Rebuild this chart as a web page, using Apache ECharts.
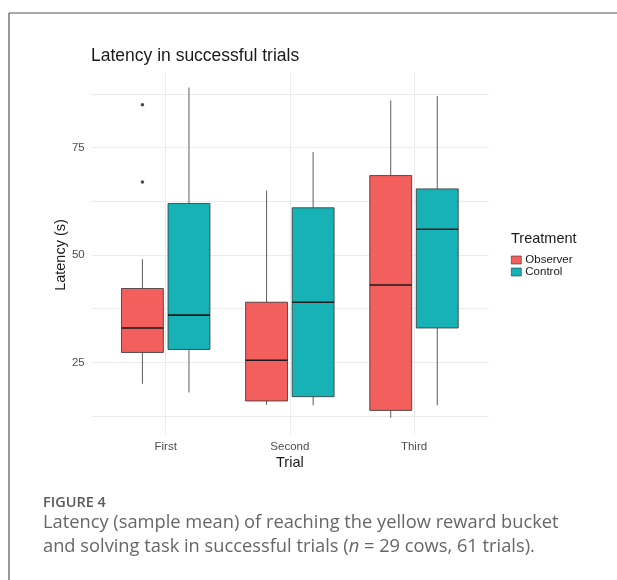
<!DOCTYPE html>
<html>
<head>
<meta charset="utf-8">
<script src="https://cdn.jsdelivr.net/npm/echarts@6/dist/echarts.min.js"></script>
<style>
  html, body { margin: 0; padding: 0; background: #fff; }
  #chart { width: 617px; height: 580px; }
</style>
</head>
<body>
<div id="chart"></div>
<script>
// trial categories
const categories = ['First', 'Second', 'Third']
// box stats per trial: [min, q1, median, q3, max]
const observerStats = [
  [20, 27.3, 33, 42.2, 49],
  [15.1, 16, 25.5, 39, 65],
  [12.1, 13.8, 43, 68.5, 86]
]
const controlStats = [
  [18, 28, 36, 62, 89],
  [15, 17, 39, 61, 74],
  [15, 33, 56, 65.4, 87]
]
// outliers: [trial index, latency]
const observerOutliers = [[0, 85], [0, 67]]
const yTicks = [25, 50, 75]

const observerColor = '#f25f5c'
const controlColor = '#17b2b6'
const dodge = 0.1875
const halfBox = 0.16875
const font = 'Liberation Sans'

const chart = echarts.init(document.getElementById('chart'))

function boxItem(offset, color) {
  return function (params, api) {
    const x = api.value(0) + offset
    const lo = api.coord([x, api.value(1)])
    const q1 = api.coord([x, api.value(2)])
    const med = api.coord([x, api.value(3)])
    const q3 = api.coord([x, api.value(4)])
    const hi = api.coord([x, api.value(5)])
    const left = api.coord([x - halfBox, 0])[0]
    const right = api.coord([x + halfBox, 0])[0]
    const line = { stroke: '#333', lineWidth: 0.8 }
    return {
      type: 'group',
      children: [
        { type: 'line', shape: { x1: hi[0], y1: hi[1], x2: q3[0], y2: q3[1] }, style: line },
        { type: 'line', shape: { x1: q1[0], y1: q1[1], x2: lo[0], y2: lo[1] }, style: line },
        { type: 'rect', shape: { x: left, y: q3[1], width: right - left, height: q1[1] - q3[1] },
          style: { fill: color, stroke: '#333', lineWidth: 0.8 } },
        { type: 'line', shape: { x1: left, y1: med[1], x2: right, y2: med[1] },
          style: { stroke: '#1a1a1a', lineWidth: 1.6 } }
      ]
    }
  }
}

const toData = stats => stats.map((s, i) => [i + 1, ...s])

chart.setOption({
  animation: false,
  title: [
    { text: 'Latency in successful trials', left: 86, top: 42,
      textStyle: { fontFamily: font, fontSize: 17.5, fontWeight: 'normal', color: '#1a1a1a' } },
    { text: 'Treatment', left: 506, top: 226,
      textStyle: { fontFamily: font, fontSize: 14.5, fontWeight: 'normal', color: '#1a1a1a' } }
  ],
  legend: {
    orient: 'vertical', left: 506, top: 249, itemGap: 0, itemWidth: 10, itemHeight: 8,
    icon: 'rect',
    itemStyle: { borderColor: '#333', borderWidth: 0.6 },
    textStyle: { fontFamily: font, fontSize: 11.5, color: '#1a1a1a', padding: [0, 0, 0, -1] },
    data: ['Observer', 'Control']
  },
  grid: [
    { left: 91.7, right: 128.2, top: 94, bottom: 164 },
    { left: 165.7, right: 203, top: 72, bottom: 146 }
  ],
  xAxis: [
    { type: 'value', gridIndex: 0, show: false, min: 0, max: 1 },
    { type: 'value', gridIndex: 1, min: 1, max: 3, interval: 1,
      axisLine: { show: false }, axisTick: { show: false },
      splitLine: { show: true, lineStyle: { color: '#ebebeb', width: 1 } },
      axisLabel: { formatter: v => categories[v - 1], color: '#4d4d4d', fontSize: 11.5,
        fontFamily: font, margin: 7 },
      name: 'Trial', nameLocation: 'middle', nameGap: 21, nameMoveOverlap: false,
      nameTextStyle: { fontFamily: font, fontSize: 14.5, color: '#1a1a1a' } }
  ],
  yAxis: [
    { type: 'value', gridIndex: 0, min: 12.5, max: 87.5, interval: 12.5,
      axisLine: { show: false }, axisTick: { show: false },
      splitLine: { show: true, lineStyle: { color: '#ebebeb', width: 1 } },
      axisLabel: { formatter: v => (yTicks.includes(v) ? String(v) : ''), color: '#4d4d4d',
        fontSize: 11.5, fontFamily: font, margin: 7 },
      name: 'Latency (s)', nameLocation: 'middle', nameRotate: 90, nameGap: 23.5,
      nameMoveOverlap: false,
      nameTextStyle: { fontFamily: font, fontSize: 14.5, color: '#1a1a1a' } },
    { type: 'value', gridIndex: 1, min: 8.3075, max: 92.624, show: false }
  ],
  series: [
    { name: 'Observer', type: 'custom', xAxisIndex: 1, yAxisIndex: 1,
      itemStyle: { color: observerColor },
      renderItem: boxItem(-dodge, observerColor), data: toData(observerStats) },
    { name: 'Control', type: 'custom', xAxisIndex: 1, yAxisIndex: 1,
      itemStyle: { color: controlColor },
      renderItem: boxItem(dodge, controlColor), data: toData(controlStats) },
    { type: 'scatter', xAxisIndex: 1, yAxisIndex: 1, symbolSize: 3.5, clip: false,
      itemStyle: { color: '#1a1a1a' },
      data: observerOutliers.map(o => [o[0] + 1 - dodge, o[1]]) }
  ],
  graphic: [
    { type: 'line', shape: { x1: 9, y1: 13, x2: 617, y2: 13 }, style: { stroke: '#555', lineWidth: 1.2 } },
    { type: 'line', shape: { x1: 9, y1: 13, x2: 9, y2: 580 }, style: { stroke: '#555', lineWidth: 1.2 } },
    { type: 'text', left: 43, top: 495,
      style: { text: 'FIGURE 4', font: '600 14.5px "Open Sans"', fill: '#5a5a5a' } },
    { type: 'text', left: 43, top: 514,
      style: {
        text: '{a|Latency (sample mean) of reaching the yellow reward bucket}\n' +
          '{a|and solving task in successful trials (}{i|n}{a| = 29 cows, 61 trials).}',
        rich: {
          a: { fontFamily: 'Open Sans', fontSize: 18.3, fill: '#666', lineHeight: 24 },
          i: { fontFamily: 'Open Sans', fontSize: 18.3, fontStyle: 'italic', fill: '#666', lineHeight: 24 }
        }
      } }
  ]
})
</script>
</body>
</html>
